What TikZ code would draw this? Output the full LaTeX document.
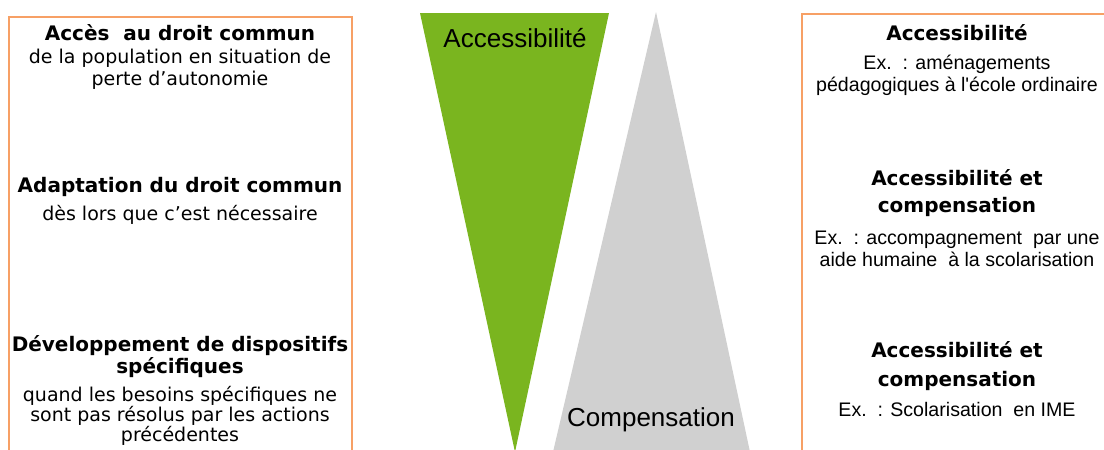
\documentclass[tikz,border=0pt]{standalone}
\usepackage{fontspec}
\setmainfont{DejaVu Sans}
\newfontfamily\arialf{Liberation Sans}
\definecolor{boxorange}{HTML}{F7A065}
\definecolor{accgreen}{HTML}{7AB51F}
\definecolor{compgray}{HTML}{D0D0D0}
\begin{document}
\begin{tikzpicture}[x=1pt,y=-1pt,
  head/.style={inner sep=0pt,align=center,font=\bfseries\fontsize{20}{24}\selectfont},
  body/.style={inner sep=0pt,align=center,font=\fontsize{19}{22}\selectfont},
  exbody/.style={inner sep=0pt,align=center,font=\arialf\fontsize{19.6}{22}\selectfont},
  trilabel/.style={inner sep=0pt,font=\arialf\fontsize{26}{30}\selectfont},
  framebox/.style={draw=boxorange,line width=2.4pt}]
\useasboundingbox (0,0) rectangle (1104,450);
\clip (0,0) rectangle (1104,450);
% frames
\draw[framebox] (9,470) -- (9,17) -- (352,17) -- (352,470);
\draw[framebox] (802,470) -- (802,14) -- (1120,14);
% triangles
\fill[accgreen] (420,13) -- (609,13) -- (515,452) -- cycle;
\fill[compgray] (656,12) -- (750,452) -- (553,452) -- cycle;
\node[trilabel] (acc) at (515,38) {Accessibilité};
\node[trilabel] (comp) at (651,420) {Compensation};
% left texts
\node[head] (l1h) at (180,33) {Accès\ \ au droit commun};
\node[body] (l1b) at (180,69) {de la population en situation de\\perte d'autonomie};
\node[head] (l2h) at (180,187) {Adaptation du droit commun};
\node[body] (l2b) at (180,215) {dès lors que c'est nécessaire};
\node[head,font=\bfseries\fontsize{20}{22}\selectfont] (l3h) at (180,357) {Développement de dispositifs\\spécifiques};
\node[body,font=\fontsize{19}{18.5}\selectfont] (l3b) at (180,416) {quand les besoins spécifiques ne\\sont pas résolus par les actions\\précédentes};
% right texts
\node[head] (r1h) at (957,33) {Accessibilité};
\node[exbody] (r1b) at (957,75) {Ex.\ \ : aménagements\\pédagogiques à l'école ordinaire};
\node[head,font=\bfseries\fontsize{20}{27}\selectfont] (r2h) at (957,193.5) {Accessibilité et\\compensation};
\node[exbody] (r2b) at (957,249) {Ex.\ \ : accompagnement\ \ par une\\aide humaine\ \ à la scolarisation};
\node[head,font=\bfseries\fontsize{20}{29}\selectfont] (r3h) at (957,366) {Accessibilité et\\compensation};
\node[exbody] (r3b) at (957,409) {Ex.\ \ : Scolarisation\ \ en IME};
\end{tikzpicture}
\end{document}
